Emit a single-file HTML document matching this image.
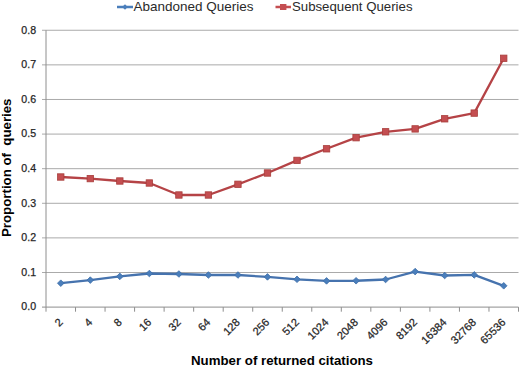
<!DOCTYPE html>
<html><head><meta charset="utf-8"><style>
html,body{margin:0;padding:0;background:#fff;}
body{width:520px;height:367px;overflow:hidden;}
svg{display:block;font-family:"Liberation Sans", sans-serif;}
text{white-space:pre;}
.t{stroke:#262626;stroke-width:0.25px;}
</style></head><body>
<svg width="520" height="367" viewBox="0 0 520 367">
<line x1="42.0" y1="272.50" x2="518.5" y2="272.50" stroke="#aaaaaa" stroke-width="1"/>
<line x1="42.0" y1="237.89" x2="518.5" y2="237.89" stroke="#aaaaaa" stroke-width="1"/>
<line x1="42.0" y1="203.29" x2="518.5" y2="203.29" stroke="#aaaaaa" stroke-width="1"/>
<line x1="42.0" y1="168.68" x2="518.5" y2="168.68" stroke="#aaaaaa" stroke-width="1"/>
<line x1="42.0" y1="134.08" x2="518.5" y2="134.08" stroke="#aaaaaa" stroke-width="1"/>
<line x1="42.0" y1="99.47" x2="518.5" y2="99.47" stroke="#aaaaaa" stroke-width="1"/>
<line x1="42.0" y1="64.87" x2="518.5" y2="64.87" stroke="#aaaaaa" stroke-width="1"/>
<line x1="42.0" y1="30.26" x2="518.5" y2="30.26" stroke="#aaaaaa" stroke-width="1"/>
<line x1="42.0" y1="307.1" x2="518.5" y2="307.1" stroke="#8e8e8e" stroke-width="1"/>
<line x1="46.0" y1="30.26" x2="46.0" y2="311.70000000000005" stroke="#8e8e8e" stroke-width="1"/>
<line x1="75.53" y1="307.1" x2="75.53" y2="311.70000000000005" stroke="#8e8e8e" stroke-width="1"/>
<line x1="105.06" y1="307.1" x2="105.06" y2="311.70000000000005" stroke="#8e8e8e" stroke-width="1"/>
<line x1="134.59" y1="307.1" x2="134.59" y2="311.70000000000005" stroke="#8e8e8e" stroke-width="1"/>
<line x1="164.12" y1="307.1" x2="164.12" y2="311.70000000000005" stroke="#8e8e8e" stroke-width="1"/>
<line x1="193.66" y1="307.1" x2="193.66" y2="311.70000000000005" stroke="#8e8e8e" stroke-width="1"/>
<line x1="223.19" y1="307.1" x2="223.19" y2="311.70000000000005" stroke="#8e8e8e" stroke-width="1"/>
<line x1="252.72" y1="307.1" x2="252.72" y2="311.70000000000005" stroke="#8e8e8e" stroke-width="1"/>
<line x1="282.25" y1="307.1" x2="282.25" y2="311.70000000000005" stroke="#8e8e8e" stroke-width="1"/>
<line x1="311.78" y1="307.1" x2="311.78" y2="311.70000000000005" stroke="#8e8e8e" stroke-width="1"/>
<line x1="341.31" y1="307.1" x2="341.31" y2="311.70000000000005" stroke="#8e8e8e" stroke-width="1"/>
<line x1="370.84" y1="307.1" x2="370.84" y2="311.70000000000005" stroke="#8e8e8e" stroke-width="1"/>
<line x1="400.38" y1="307.1" x2="400.38" y2="311.70000000000005" stroke="#8e8e8e" stroke-width="1"/>
<line x1="429.91" y1="307.1" x2="429.91" y2="311.70000000000005" stroke="#8e8e8e" stroke-width="1"/>
<line x1="459.44" y1="307.1" x2="459.44" y2="311.70000000000005" stroke="#8e8e8e" stroke-width="1"/>
<line x1="488.97" y1="307.1" x2="488.97" y2="311.70000000000005" stroke="#8e8e8e" stroke-width="1"/>
<line x1="518.50" y1="307.1" x2="518.50" y2="311.70000000000005" stroke="#8e8e8e" stroke-width="1"/>
<text x="36.1" y="310.45" text-anchor="end" font-size="10.6" fill="#262626" class="t">0.0</text>
<text x="36.1" y="275.85" text-anchor="end" font-size="10.6" fill="#262626" class="t">0.1</text>
<text x="36.1" y="241.24" text-anchor="end" font-size="10.6" fill="#262626" class="t">0.2</text>
<text x="36.1" y="206.64" text-anchor="end" font-size="10.6" fill="#262626" class="t">0.3</text>
<text x="36.1" y="172.03" text-anchor="end" font-size="10.6" fill="#262626" class="t">0.4</text>
<text x="36.1" y="137.43" text-anchor="end" font-size="10.6" fill="#262626" class="t">0.5</text>
<text x="36.1" y="102.82" text-anchor="end" font-size="10.6" fill="#262626" class="t">0.6</text>
<text x="36.1" y="68.22" text-anchor="end" font-size="10.6" fill="#262626" class="t">0.7</text>
<text x="36.1" y="33.61" text-anchor="end" font-size="10.6" fill="#262626" class="t">0.8</text>
<text x="63.47" y="323.00" text-anchor="end" font-size="11" fill="#262626" class="t" transform="rotate(-45 63.47 323.00)">2</text>
<text x="93.00" y="323.00" text-anchor="end" font-size="11" fill="#262626" class="t" transform="rotate(-45 93.00 323.00)">4</text>
<text x="122.53" y="323.00" text-anchor="end" font-size="11" fill="#262626" class="t" transform="rotate(-45 122.53 323.00)">8</text>
<text x="152.06" y="323.00" text-anchor="end" font-size="11" fill="#262626" class="t" transform="rotate(-45 152.06 323.00)">16</text>
<text x="181.59" y="323.00" text-anchor="end" font-size="11" fill="#262626" class="t" transform="rotate(-45 181.59 323.00)">32</text>
<text x="211.12" y="323.00" text-anchor="end" font-size="11" fill="#262626" class="t" transform="rotate(-45 211.12 323.00)">64</text>
<text x="240.65" y="323.00" text-anchor="end" font-size="11" fill="#262626" class="t" transform="rotate(-45 240.65 323.00)">128</text>
<text x="270.18" y="323.00" text-anchor="end" font-size="11" fill="#262626" class="t" transform="rotate(-45 270.18 323.00)">256</text>
<text x="299.72" y="323.00" text-anchor="end" font-size="11" fill="#262626" class="t" transform="rotate(-45 299.72 323.00)">512</text>
<text x="329.25" y="323.00" text-anchor="end" font-size="11" fill="#262626" class="t" transform="rotate(-45 329.25 323.00)">1024</text>
<text x="358.78" y="323.00" text-anchor="end" font-size="11" fill="#262626" class="t" transform="rotate(-45 358.78 323.00)">2048</text>
<text x="388.31" y="323.00" text-anchor="end" font-size="11" fill="#262626" class="t" transform="rotate(-45 388.31 323.00)">4096</text>
<text x="417.84" y="323.00" text-anchor="end" font-size="11" fill="#262626" class="t" transform="rotate(-45 417.84 323.00)">8192</text>
<text x="447.37" y="323.00" text-anchor="end" font-size="11" fill="#262626" class="t" transform="rotate(-45 447.37 323.00)">16384</text>
<text x="476.90" y="323.00" text-anchor="end" font-size="11" fill="#262626" class="t" transform="rotate(-45 476.90 323.00)">32768</text>
<text x="506.43" y="323.00" text-anchor="end" font-size="11" fill="#262626" class="t" transform="rotate(-45 506.43 323.00)">65536</text>
<polyline points="60.77,283.20 90.30,280.10 119.83,276.40 149.36,273.50 178.89,274.00 208.42,275.00 237.95,275.00 267.48,276.90 297.02,279.30 326.55,280.90 356.08,280.75 385.61,279.50 415.14,271.60 444.67,275.50 474.20,274.90 503.73,285.80" fill="none" stroke="#4673AE" stroke-width="2.3" stroke-linejoin="round" stroke-linecap="round"/>
<polyline points="60.77,177.00 90.30,178.60 119.83,181.00 149.36,183.00 178.89,195.00 208.42,195.00 237.95,184.30 267.48,173.00 297.02,160.40 326.55,148.80 356.08,137.70 385.61,131.80 415.14,128.90 444.67,118.80 474.20,113.10 503.73,58.30" fill="none" stroke="#B54346" stroke-width="2.3" stroke-linejoin="round" stroke-linecap="round"/>
<path d="M60.77 279.90L64.07 283.20L60.77 286.50L57.47 283.20Z" fill="#4A7EBB" stroke="#3C6DA8" stroke-width="0.8"/>
<path d="M90.30 276.80L93.60 280.10L90.30 283.40L87.00 280.10Z" fill="#4A7EBB" stroke="#3C6DA8" stroke-width="0.8"/>
<path d="M119.83 273.10L123.13 276.40L119.83 279.70L116.53 276.40Z" fill="#4A7EBB" stroke="#3C6DA8" stroke-width="0.8"/>
<path d="M149.36 270.20L152.66 273.50L149.36 276.80L146.06 273.50Z" fill="#4A7EBB" stroke="#3C6DA8" stroke-width="0.8"/>
<path d="M178.89 270.70L182.19 274.00L178.89 277.30L175.59 274.00Z" fill="#4A7EBB" stroke="#3C6DA8" stroke-width="0.8"/>
<path d="M208.42 271.70L211.72 275.00L208.42 278.30L205.12 275.00Z" fill="#4A7EBB" stroke="#3C6DA8" stroke-width="0.8"/>
<path d="M237.95 271.70L241.25 275.00L237.95 278.30L234.65 275.00Z" fill="#4A7EBB" stroke="#3C6DA8" stroke-width="0.8"/>
<path d="M267.48 273.60L270.78 276.90L267.48 280.20L264.18 276.90Z" fill="#4A7EBB" stroke="#3C6DA8" stroke-width="0.8"/>
<path d="M297.02 276.00L300.32 279.30L297.02 282.60L293.72 279.30Z" fill="#4A7EBB" stroke="#3C6DA8" stroke-width="0.8"/>
<path d="M326.55 277.60L329.85 280.90L326.55 284.20L323.25 280.90Z" fill="#4A7EBB" stroke="#3C6DA8" stroke-width="0.8"/>
<path d="M356.08 277.45L359.38 280.75L356.08 284.05L352.78 280.75Z" fill="#4A7EBB" stroke="#3C6DA8" stroke-width="0.8"/>
<path d="M385.61 276.20L388.91 279.50L385.61 282.80L382.31 279.50Z" fill="#4A7EBB" stroke="#3C6DA8" stroke-width="0.8"/>
<path d="M415.14 268.30L418.44 271.60L415.14 274.90L411.84 271.60Z" fill="#4A7EBB" stroke="#3C6DA8" stroke-width="0.8"/>
<path d="M444.67 272.20L447.97 275.50L444.67 278.80L441.37 275.50Z" fill="#4A7EBB" stroke="#3C6DA8" stroke-width="0.8"/>
<path d="M474.20 271.60L477.50 274.90L474.20 278.20L470.90 274.90Z" fill="#4A7EBB" stroke="#3C6DA8" stroke-width="0.8"/>
<path d="M503.73 282.50L507.03 285.80L503.73 289.10L500.43 285.80Z" fill="#4A7EBB" stroke="#3C6DA8" stroke-width="0.8"/>
<rect x="57.57" y="173.80" width="6.40" height="6.40" fill="#C44E51" stroke="#A83E3B" stroke-width="0.8"/>
<rect x="87.10" y="175.40" width="6.40" height="6.40" fill="#C44E51" stroke="#A83E3B" stroke-width="0.8"/>
<rect x="116.63" y="177.80" width="6.40" height="6.40" fill="#C44E51" stroke="#A83E3B" stroke-width="0.8"/>
<rect x="146.16" y="179.80" width="6.40" height="6.40" fill="#C44E51" stroke="#A83E3B" stroke-width="0.8"/>
<rect x="175.69" y="191.80" width="6.40" height="6.40" fill="#C44E51" stroke="#A83E3B" stroke-width="0.8"/>
<rect x="205.22" y="191.80" width="6.40" height="6.40" fill="#C44E51" stroke="#A83E3B" stroke-width="0.8"/>
<rect x="234.75" y="181.10" width="6.40" height="6.40" fill="#C44E51" stroke="#A83E3B" stroke-width="0.8"/>
<rect x="264.28" y="169.80" width="6.40" height="6.40" fill="#C44E51" stroke="#A83E3B" stroke-width="0.8"/>
<rect x="293.82" y="157.20" width="6.40" height="6.40" fill="#C44E51" stroke="#A83E3B" stroke-width="0.8"/>
<rect x="323.35" y="145.60" width="6.40" height="6.40" fill="#C44E51" stroke="#A83E3B" stroke-width="0.8"/>
<rect x="352.88" y="134.50" width="6.40" height="6.40" fill="#C44E51" stroke="#A83E3B" stroke-width="0.8"/>
<rect x="382.41" y="128.60" width="6.40" height="6.40" fill="#C44E51" stroke="#A83E3B" stroke-width="0.8"/>
<rect x="411.94" y="125.70" width="6.40" height="6.40" fill="#C44E51" stroke="#A83E3B" stroke-width="0.8"/>
<rect x="441.47" y="115.60" width="6.40" height="6.40" fill="#C44E51" stroke="#A83E3B" stroke-width="0.8"/>
<rect x="471.00" y="109.90" width="6.40" height="6.40" fill="#C44E51" stroke="#A83E3B" stroke-width="0.8"/>
<rect x="500.53" y="55.10" width="6.40" height="6.40" fill="#C44E51" stroke="#A83E3B" stroke-width="0.8"/>
<line x1="117" y1="7" x2="133" y2="7" stroke="#4A7EBB" stroke-width="2.5"/>
<path d="M125 4.2L127.8 7L125 9.8L122.2 7Z" fill="#4A7EBB"/>
<text x="133.5" y="10.7" font-size="13" fill="#2a2a2a" textLength="120" lengthAdjust="spacingAndGlyphs">Abandoned Queries</text>
<line x1="275.5" y1="7" x2="291" y2="7" stroke="#C44E51" stroke-width="2.5"/>
<rect x="280" y="4" width="6.4" height="6" fill="#C44E51"/>
<text x="292" y="10.7" font-size="13" fill="#2a2a2a" textLength="120.5" lengthAdjust="spacingAndGlyphs">Subsequent Queries</text>
<text x="191" y="365" font-size="13" font-weight="bold" fill="#000" textLength="182" lengthAdjust="spacingAndGlyphs">Number of returned citations</text>
<text x="0" y="0" font-size="13" font-weight="bold" fill="#000" textLength="138.5" lengthAdjust="spacingAndGlyphs" transform="translate(11 237) rotate(-90)">Proportion of  queries</text>
</svg>
</body></html>
